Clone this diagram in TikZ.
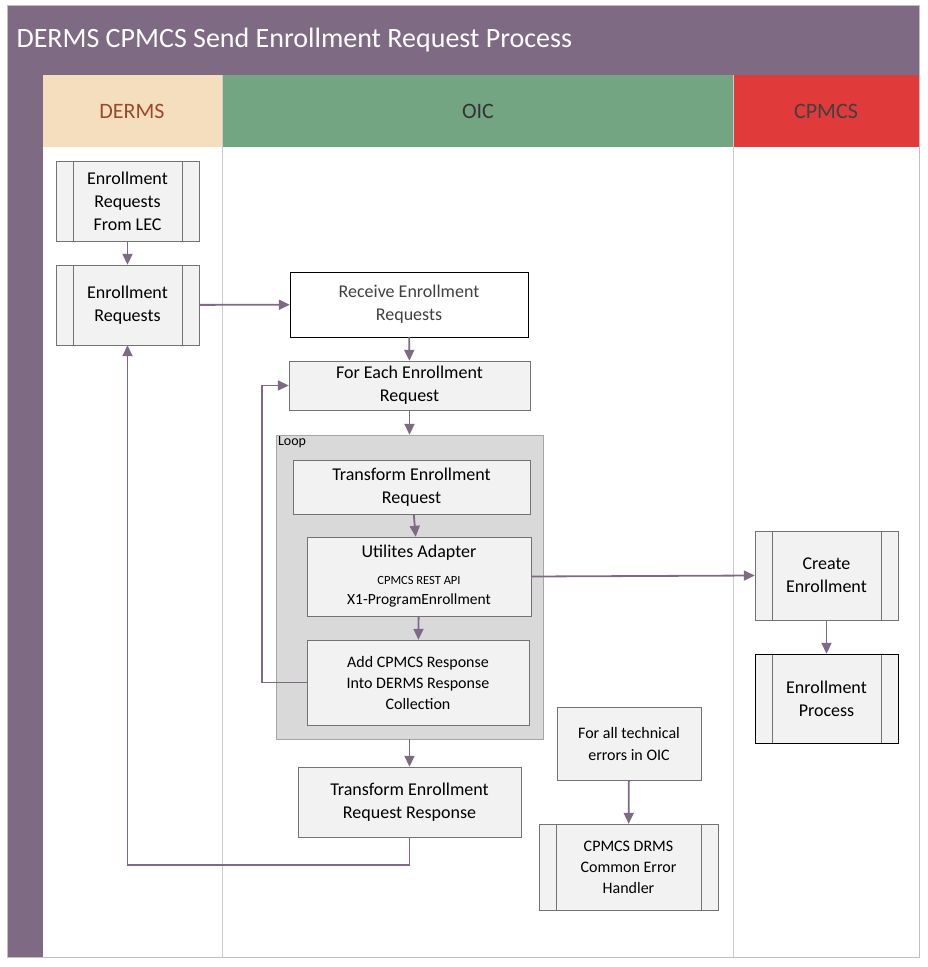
\documentclass[tikz,border=0pt]{standalone}
\usepackage{fontspec}
\setmainfont{Carlito}
\usetikzlibrary{arrows.meta}
\definecolor{lanepurple}{HTML}{7F6A84}
\definecolor{dermsbg}{HTML}{F5DEBD}
\definecolor{dermstxt}{HTML}{9A4A2A}
\definecolor{oicbg}{HTML}{73A583}
\definecolor{cpmcsbg}{HTML}{E03A3A}
\definecolor{boxgray}{HTML}{F2F2F2}
\definecolor{loopgray}{HTML}{D9D9D9}
\tikzset{
  box/.style={draw=gray!90!black, fill=boxgray, align=center, inner sep=0pt, font=\fontsize{18}{23}\selectfont},
  subproc/.style={box, path picture={
    \draw[gray!90!black] ([xshift=17pt]path picture bounding box.north west) -- ([xshift=17pt]path picture bounding box.south west);
    \draw[gray!90!black] ([xshift=-17pt]path picture bounding box.north east) -- ([xshift=-17pt]path picture bounding box.south east);}},
  flow/.style={-{Triangle[length=11pt,width=10pt]}, draw=lanepurple, line width=1.8pt},
}
\begin{document}
\begin{tikzpicture}[x=1pt,y=-1pt]
    \useasboundingbox (0,0) rectangle (927,967);
    % pool and lanes
    \fill[lanepurple] (7,5) rectangle (919,75);
    \fill[lanepurple] (7,75) rectangle (43,957);
    \node[anchor=west, text=white, font=\fontsize{28}{32}\selectfont] (title) at (13,40) {DERMS CPMCS Send Enrollment Request Process};
    \fill[dermsbg] (43,75) rectangle (222,147);
    \fill[oicbg] (222,75) rectangle (733,147);
    \fill[cpmcsbg] (733,75) rectangle (919,147);
    \node[text=dermstxt, font=\fontsize{22}{26}\selectfont] (derms) at (132,111) {DERMS};
    \node[text=black!80, font=\fontsize{22}{26}\selectfont] (oic) at (478,111) {OIC};
    \node[text=black!75, font=\fontsize{22}{26}\selectfont] (cpmcs) at (826,111) {CPMCS};
    \draw[gray!40] (222,75) -- (222,957);
    \draw[gray!40] (733,75) -- (733,957);
    \draw[gray!50] (7,5) rectangle (919,957);
    % loop container
    \node[draw=gray!70, fill=loopgray, minimum width=267pt, minimum height=304pt, inner sep=0pt] (loop) at (409.5,587) {};
    \node[anchor=north west, font=\fontsize{14}{16}\selectfont, inner sep=2pt] (looplbl) at (loop.north west) {Loop};
    % DERMS lane
    \node[subproc, minimum width=143pt, minimum height=80pt] (elec) at (127.5,201) {Enrollment\\Requests\\From LEC};
    \node[subproc, minimum width=143pt, minimum height=80pt] (ereq) at (127.5,305) {Enrollment\\Requests};
    % OIC lane
    \node[box, draw=black, fill=white, text=black!75, minimum width=238pt, minimum height=65pt] (recv) at (409,304.5) {Receive Enrollment\\Requests};
    \node[box, minimum width=241pt, minimum height=49pt] (foreach) at (409.5,385.5) {For Each Enrollment\\Request};
    \node[box, minimum width=237pt, minimum height=54pt] (trans) at (411.5,487) {Transform Enrollment\\Request};
    \node[box, minimum width=224pt, minimum height=79pt] (util) at (419,576.5) {Utilites Adapter\\[4pt]{\fontsize{12.5}{15}\selectfont CPMCS REST API}\\[-3pt]{\fontsize{15.5}{18}\selectfont X1-ProgramEnrollment}};
    \node[box, minimum width=222pt, minimum height=85pt, font=\fontsize{16}{21}\selectfont] (addr) at (418,682.5) {Add CPMCS Response\\Into DERMS Response\\Collection};
    \node[box, minimum width=223pt, minimum height=70pt] (tresp) at (409.5,802) {Transform Enrollment\\Request Response};
    \node[box, minimum width=144pt, minimum height=73pt, font=\fontsize{16}{22}\selectfont] (errs) at (629,743.5) {For all technical\\errors in OIC};
    \node[subproc, minimum width=179pt, minimum height=86pt, font=\fontsize{16}{21}\selectfont] (handler) at (628.5,867) {CPMCS DRMS\\Common Error\\Handler};
    % CPMCS lane
    \node[subproc, minimum width=143pt, minimum height=89pt] (create) at (826.5,575.5) {Create\\Enrollment};
    \node[subproc, draw=black, minimum width=143pt, minimum height=89pt] (eproc) at (826.5,698.5) {Enrollment\\Process};
    % connectors
    \draw[flow] (elec) -- (ereq);
    \draw[flow] (ereq) -- (recv);
    \draw[flow] (recv) -- (foreach);
    \draw[flow] (foreach) -- (loop);
    \draw[flow] (trans) -- (util);
    \draw[flow] (util) -- (addr);
    \draw[flow] (addr.west) -- ++(-45,0) |- (foreach.west);
    \draw[flow] (util.east) -- (create.west);
    \draw[flow] (loop.south -| tresp.north) -- (tresp.north);
    \draw[flow] (tresp.south) -- ++(0,28) -| (ereq.south);
    \draw[flow] (errs) -- (handler);
    \draw[flow] (create) -- (eproc);
\end{tikzpicture}
\end{document}
